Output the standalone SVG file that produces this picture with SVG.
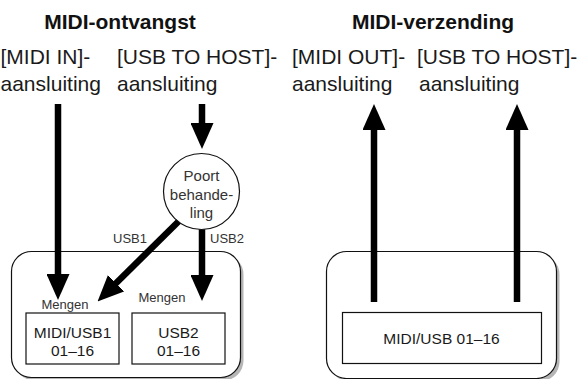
<svg xmlns="http://www.w3.org/2000/svg" width="579" height="379" viewBox="0 0 579 379">
<style>
text{font-family:"Liberation Sans",Arial,Helvetica,sans-serif;fill:#1a1a1a}
.t{font-size:21px;font-weight:bold;fill:#111}
.l{font-size:21px}
.s{font-size:13px;fill:#333}
.m{font-size:15.5px}
.c{font-size:15px;fill:#333}
.panel{fill:#fff;stroke:#111;stroke-width:1.2}
.shadow{fill:#b5b5b5}
.box{fill:#fff;stroke:#111;stroke-width:1.2}
.arrow{stroke:#000;stroke-width:6.5;fill:none;marker-end:url(#ah)}
</style>
<defs>
<marker id="ah" markerUnits="userSpaceOnUse" markerWidth="26" markerHeight="23" refX="4" refY="11.5" orient="auto" viewBox="0 0 26 23">
<path d="M0,0 L26,11.5 L0,23 z" fill="#000"/>
</marker>
</defs>

<g id="labels">
<text class="t" x="120" y="29" text-anchor="middle">MIDI-ontvangst</text>
<text class="t" x="433" y="29" text-anchor="middle">MIDI-verzending</text>
<text class="l" x="0.5" y="63.5">[MIDI IN]-</text>
<text class="l" x="0.5" y="91">aansluiting</text>
<text class="l" x="117" y="63.5">[USB TO HOST]-</text>
<text class="l" x="117" y="91">aansluiting</text>
<text class="l" x="292" y="63.5">[MIDI OUT]-</text>
<text class="l" x="292" y="91">aansluiting</text>
<text class="l" x="417" y="63.5">[USB TO HOST]-</text>
<text class="l" x="419" y="91">aansluiting</text>
</g>

<g id="receive-panel">
<rect class="shadow" x="14.5" y="254.5" width="229" height="126" rx="20"/>
<rect class="panel" x="11.5" y="251.5" width="229" height="126" rx="20"/>
</g>

<g id="send-panel">
<rect class="shadow" x="329.5" y="254.5" width="230" height="127" rx="20"/>
<rect class="panel" x="326.5" y="251.5" width="230" height="127" rx="20"/>
</g>

<g id="midi-usb1">
<rect class="box" x="26" y="313" width="93" height="51"/>
<text class="m" x="72.5" y="337.5" text-anchor="middle">MIDI/USB1</text>
<text class="m" x="72.5" y="356" text-anchor="middle">01–16</text>
</g>

<g id="usb2">
<rect class="box" x="132" y="313" width="93" height="51"/>
<text class="m" x="178.5" y="337.5" text-anchor="middle">USB2</text>
<text class="m" x="178.5" y="356" text-anchor="middle">01–16</text>
</g>

<g id="midi-usb-out">
<rect class="box" x="342.5" y="312.5" width="199" height="51"/>
<text class="m" x="441.5" y="344" text-anchor="middle">MIDI/USB 01–16</text>
</g>

<g id="connectors">
<line class="arrow" x1="58" y1="104" x2="58" y2="278"/>
<line class="arrow" x1="202" y1="104" x2="202" y2="127"/>
<line class="arrow" x1="202" y1="225" x2="202" y2="279"/>
<line class="arrow" x1="179" y1="221" x2="113.2" y2="286"/>
<line class="arrow" x1="374" y1="302" x2="374" y2="126"/>
<line class="arrow" x1="517" y1="302" x2="517" y2="126"/>
<text class="s" x="113" y="243">USB1</text>
<text class="s" x="210" y="243">USB2</text>
<text class="s" x="41.5" y="308.5">Mengen</text>
<text class="s" x="138.5" y="302">Mengen</text>
</g>

<g id="port-handling">
<circle cx="201.5" cy="191.5" r="38" fill="#fff" stroke="#111" stroke-width="1.2"/>
<text class="c" x="201.5" y="181" text-anchor="middle">Poort</text>
<text class="c" x="201.5" y="199.5" text-anchor="middle">behande-</text>
<text class="c" x="201.5" y="218" text-anchor="middle">ling</text>
</g>
</svg>
